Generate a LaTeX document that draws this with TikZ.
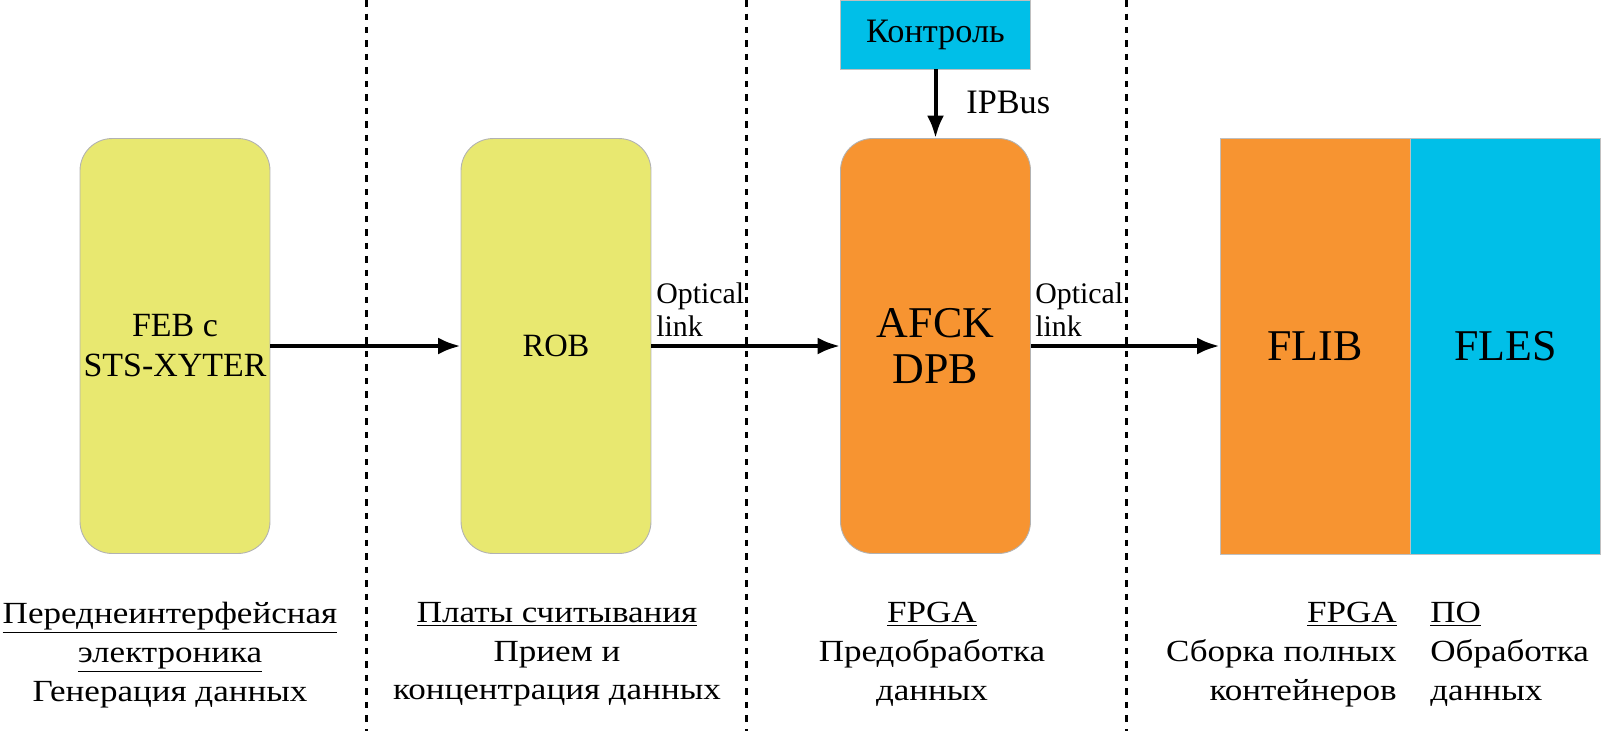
\documentclass[tikz,border=0pt]{standalone}
\usepackage{fontspec}
\setmainfont{Liberation Serif}
\newfontfamily\shirokij[FakeStretch=1.14]{Liberation Serif}
\usetikzlibrary{arrows.meta}
\definecolor{zheltyj}{RGB}{232,232,112}
\definecolor{oranzh}{RGB}{247,148,49}
\definecolor{goluboj}{RGB}{0,191,232}
\tikzset{
  plata/.style={draw=black!30, line width=0.5pt, rounded corners=0.64cm, minimum width=3.8cm, minimum height=8.3cm, inner sep=0pt, align=center},
  blok/.style={draw=black!25, line width=0.5pt, minimum width=3.8cm, minimum height=8.32cm, inner sep=0pt, align=center},
  podpis/.style={inner sep=0pt, font=\shirokij\fontsize{17.5}{22}\selectfont},
  link/.style={inner sep=0pt, anchor=north west, align=left, font=\fontsize{17}{19.3}\selectfont},
  razdel/.style={line width=0.06cm, dash pattern=on 0.13cm off 0.14cm}
}
\begin{document}
\begin{tikzpicture}[x=0.02cm, y=-0.02cm, >={Latex[length=0.45cm,width=0.34cm]}]
\useasboundingbox (0,0) rectangle (1601,731);
\foreach \x in {366,746,1126}
{
    \draw[razdel] (\x,0)--(\x,731);
}

\node[plata, fill=zheltyj, font=\fontsize{19.3}{22.8}\selectfont] (feb) at (175,346) {FEB с\\STS-XYTER};
\node[plata, fill=zheltyj, font=\fontsize{18.5}{22.8}\selectfont] (rob) at (556,346) {ROB};
\node[plata, fill=oranzh, font=\fontsize{25}{26.7}\selectfont] (dpb) at (935.5,346) {AFCK\\DPB};
\node[blok, fill=oranzh, font=\fontsize{25}{26.7}\selectfont] (flib) at (1315,346) {FLIB};
\node[blok, fill=goluboj, font=\fontsize{25}{26.7}\selectfont] (fles) at (1505.5,346) {FLES};
\node[blok, fill=goluboj, minimum height=1.38cm, font=\fontsize{19.5}{22}\selectfont] (kontrol) at (935.5,34.5) {Контроль};

\draw[->, line width=0.08cm] (feb.east)--(rob.west);
\draw[->, line width=0.08cm] (rob.east)--(dpb.west);
\draw[->, line width=0.08cm] (dpb.east)--(flib.west);
\draw[->, line width=0.08cm] (kontrol.south)--(dpb.north);

\node[link] (opt1) at (656,282) {Optical\\link};
\node[link] (opt2) at (1035,282) {Optical\\link};
\node[anchor=base west, inner sep=0pt, font=\fontsize{19.5}{22}\selectfont] (ipbus) at (966,113) {IPBus};

\node[podpis, anchor=north, align=center] (pie) at (170,602) {\underline{Переднеинтерфейсная}\\\underline{электроника}\\Генерация данных};
\node[podpis, anchor=north, align=center] (ps) at (557,602) {\underline{Платы считывания}\\Прием и\\концентрация данных};
\node[podpis, anchor=north, align=center] (fpga1) at (932,602) {\underline{FPGA}\\Предобработка\\данных};
\node[podpis, anchor=north east, align=right] (fpga2) at (1397,602) {\underline{FPGA}\\Сборка полных\\контейнеров};
\node[podpis, anchor=north west, align=left] (po) at (1430,602) {\underline{ПО}\\Обработка\\данных};
\end{tikzpicture}
\end{document}
